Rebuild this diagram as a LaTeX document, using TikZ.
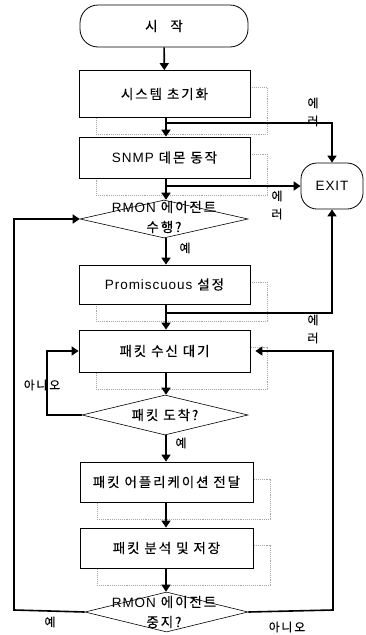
\documentclass[tikz,border=0pt]{standalone}
\usepackage{fontspec}
\setmainfont{Noto Sans CJK KR}[LetterSpace=14, FakeBold=0.2]
\newfontfamily\lat{Liberation Sans}[LetterSpace=7]
\usetikzlibrary{shapes.geometric,arrows.meta,calc,shadows}

\begin{document}
\begin{tikzpicture}[x=1pt,y=-1pt,
  txt/.style={font=\fontsize{13.5}{20}\selectfont, align=center},
  small/.style={font=\fontsize{12}{18}\selectfont, align=center, inner sep=0pt},
  box/.style={draw, line width=0.8pt, fill=white, minimum width=171pt,
    minimum height=41pt, txt,
    general shadow={shadow xshift=17pt, shadow yshift=-17pt,
      draw=gray!70, densely dotted, line width=0.9pt, fill=none}},
  term/.style={draw, line width=0.8pt, rounded corners=18pt, txt},
  dia/.style={draw, line width=0.6pt, diamond, inner sep=0pt},
  dtext/.style={txt, inner sep=0pt},
  arr/.style={line width=1.6pt, -{Triangle[width=9pt,length=7pt]}}
]
\useasboundingbox (0,0) rectangle (365,635);

% terminals
\node[term, minimum width=168pt, minimum height=42pt] (start) at (164,26) {시\hspace{8pt} 작};
\node[term, minimum width=62pt, minimum height=46pt, rounded corners=16pt] (exit) at (332,186) {\lat EXIT};

% process boxes
\node[box, minimum height=47pt] (b1) at (164.5,94) {시스템 초기화};
\node[box] (b2) at (164.5,157.5) {{\lat SNMP} 데몬 동작};
\node[box, minimum height=39pt] (b3) at (164.5,284.5) {{\lat Promiscuous} 설정};
\node[box, minimum height=42pt] (b4) at (164.5,351) {패킷 수신 대기};
\node[box, minimum width=173pt, minimum height=40pt] (b5) at (166.5,482) {패킷 어플리케이션 전달};
\node[box, minimum width=173pt, minimum height=40pt] (b6) at (166.5,548) {패킷 분석 및 저장};

% decisions
\node[dia, minimum width=168pt, minimum height=38pt] (d1) at (164,219) {};
\node[dtext] at (164,217) {{\lat RMON} 에이전트\\수행?};
\node[dia, minimum width=166pt, minimum height=40pt] (d2) at (165,415) {};
\node[dtext] at (165,415) {패킷 도착?};
\node[dia, minimum width=163pt, minimum height=40pt] (d3) at (166.5,612) {};
\node[dtext] at (164,612) {{\lat RMON} 에이전트\\중지?};

% main flow
\draw[arr] (start) -- (b1);
\draw[arr] (b1.south -| 166,0) -- (b2.north -| 166,0);
\draw[arr] (b2.south -| 166,0) -- (d1.north -| 166,0);
\draw[arr] (d1.south -| 166,0) -- (b3.north -| 166,0);
\draw[arr] (b3.south -| 166,0) -- (b4.north -| 166,0);
\draw[arr] (b4.south -| 166,0) -- (d2.north -| 166,0);
\draw[arr] (d2.south -| 166,0) -- (b5.north -| 166,0);
\draw[arr] (b5.south -| 166,0) -- (b6.north -| 166,0);
\draw[arr] (b6.south -| 166,0) -- (d3.north -| 166,0);

% error exits
\coordinate (e1) at (166,123);
\coordinate (e2) at (166,186);
\coordinate (e3) at (166,313);
\draw[arr] (e1) -| (exit.north);
\draw[arr] (e2) -- (exit.west);
\draw[arr] (e3) -| (exit.south);
\node[small] at (313,112) {에\\러};
\node[small] at (277,205) {에\\러};
\node[small] at (313,329) {에\\러};

% loops
\coordinate (l2) at (47,415);
\draw[arr] (d2.west) -- (l2) |- (b4.west);
\node[small] at (42,385) {아니오};

\coordinate (l3) at (14,610);
\draw[arr] (d3.west) -- (l3) |- (d1.west);
\node[small] at (50,622) {예};

\coordinate (r3) at (333,610);
\draw[arr] (d3.east) -- (r3) |- ($(b4.east)+(5,0)$);
\node[small] at (287,627) {아니오};

% yes labels
\node[small] at (185,248) {예};
\node[small] at (181,443) {예};
\end{tikzpicture}
\end{document}
